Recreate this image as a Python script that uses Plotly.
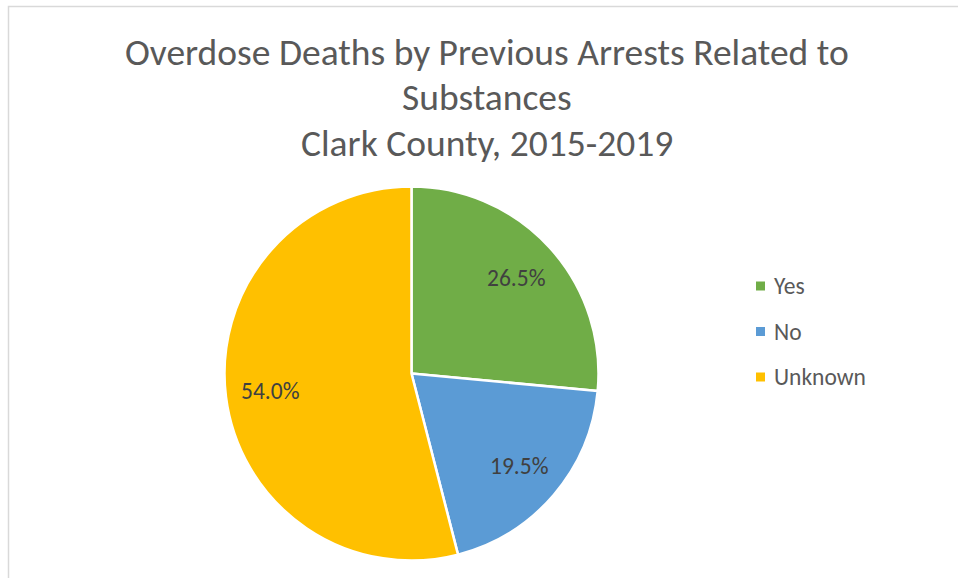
import math
import plotly.graph_objects as go

# Share of overdose deaths by whether the decedent had prior substance-related arrests
categories = ["Yes", "No", "Unknown"]
shares = [26.5, 19.5, 54.0]
colors = ["#70AD47", "#5B9BD5", "#FFC000"]

title_lines = [
    "Overdose Deaths by Previous Arrests Related to",
    "Substances",
    "Clark County, 2015-2019",
]

W, H = 958, 578
FONT = "Carlito, Lato, sans-serif"

# Pie placement in pixels (converted to paper fractions below)
cx, cy, r = 411.5, 373.5, 187.0
dom_x = [(cx - r) / W, (cx + r) / W]
dom_y = [1 - (cy + r) / H, 1 - (cy - r) / H]

fig = go.Figure(
    go.Pie(
        labels=categories,
        values=shares,
        sort=False,
        direction="clockwise",
        rotation=0,
        marker=dict(colors=colors, line=dict(color="white", width=2.5)),
        textinfo="none",
        hoverinfo="label+percent",
        showlegend=False,
        domain=dict(x=dom_x, y=dom_y),
    )
)

annotations = []

# Percentage labels placed along each slice's mid-angle
total = sum(shares)
cum = 0.0
label_r = 0.76 * r
for v in shares:
    mid = (cum + v / 2) / total * 2 * math.pi
    cum += v
    px = cx + label_r * math.sin(mid)
    py = cy - label_r * math.cos(mid)
    annotations.append(dict(
        x=px / W, y=1 - py / H, xref="paper", yref="paper",
        text=f"{v:.1f}%", showarrow=False,
        font=dict(family=FONT, size=23.5, color="#404040"),
        xanchor="center", yanchor="middle",
    ))

# Title lines
title_y = [52, 97, 143]
for line, ty in zip(title_lines, title_y):
    annotations.append(dict(
        x=487 / W, y=1 - ty / H, xref="paper", yref="paper",
        text=line, showarrow=False,
        font=dict(family=FONT, size=37.5, color="#595959"),
        xanchor="center", yanchor="middle",
    ))

# Legend: square swatch plus category name
shapes = []
leg_x, leg_y0, leg_gap, sw = 756, 286, 45.5, 9
for i, (name, col) in enumerate(zip(categories, colors)):
    ly = leg_y0 + i * leg_gap
    shapes.append(dict(
        type="rect", xref="paper", yref="paper",
        x0=leg_x / W, x1=(leg_x + sw) / W,
        y0=1 - (ly + sw / 2) / H, y1=1 - (ly - sw / 2) / H,
        fillcolor=col, line=dict(width=0),
    ))
    annotations.append(dict(
        x=(leg_x + 16) / W, y=1 - ly / H, xref="paper", yref="paper",
        text=name, showarrow=False,
        font=dict(family=FONT, size=23.5, color="#595959"),
        xanchor="left", yanchor="middle",
    ))

# Chart area frame
shapes.append(dict(
    type="rect", xref="paper", yref="paper",
    x0=8.5 / W, x1=1.1, y0=-0.1, y1=1 - 6.5 / H,
    line=dict(color="#D9D9D9", width=1.5), fillcolor="rgba(0,0,0,0)",
))

fig.update_layout(
    width=W, height=H,
    margin=dict(l=0, r=0, t=0, b=0),
    paper_bgcolor="white", plot_bgcolor="white",
    annotations=annotations, shapes=shapes,
    showlegend=False,
)

fig.write_html("out.html")
